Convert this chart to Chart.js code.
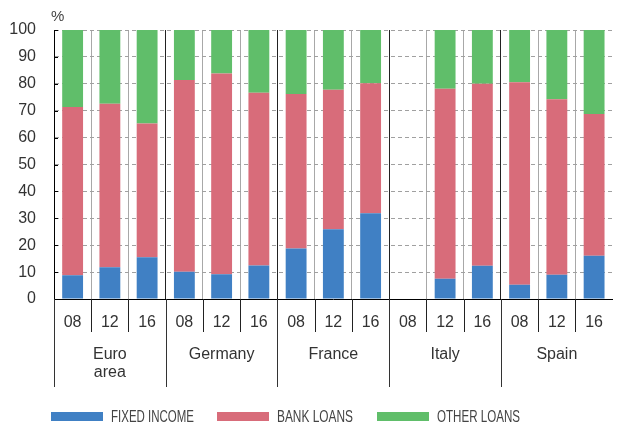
<!DOCTYPE html>
<html>
<head>
<meta charset="utf-8">
<script src="https://cdn.jsdelivr.net/npm/chart.js@4/dist/chart.umd.min.js"></script>
<style>
  html, body { margin: 0; padding: 0; background: #fff; }
  #wrap { width: 617px; height: 423px; position: relative; }
</style>
</head>
<body>
<div id="wrap"><canvas id="chart"></canvas></div>
<script>
// years shown under each bar, countries grouped by three
const categories = ['08', '12', '16', '08', '12', '16', '08', '12', '16', '08', '12', '16', '08', '12', '16'];
const groups = [['Euro', 'area'], ['Germany'], ['France'], ['Italy'], ['Spain']];
const yTicks = [0, 10, 20, 30, 40, 50, 60, 70, 80, 90, 100];

// shares in % (Italy 08 has no data)
const fixedIncome = [8.8, 11.8, 15.5, 10.1, 9.2, 12.5, 18.8, 25.9, 31.9, null, 7.5, 12.4, 5.3, 9.0, 16.1];
const bankLoans = [62.6, 60.8, 49.7, 71.3, 74.6, 64.2, 57.4, 51.9, 48.3, null, 70.7, 67.6, 75.3, 65.3, 52.7];
const otherLoans = [28.6, 27.4, 34.8, 18.6, 16.2, 23.3, 23.8, 22.2, 19.8, null, 21.8, 20.0, 19.4, 25.7, 31.2];

const FONT = '"Liberation Sans", Arial, sans-serif';

const extras = {
  id: 'extras',
  afterDraw(chart) {
    const { ctx, chartArea, scales } = chart;
    const x = scales.x;
    const y = scales.y;
    const n = categories.length;
    const catW = (x.right - x.left) / n;
    ctx.save();

    // unit label
    ctx.fillStyle = '#444';
    ctx.font = '15px ' + FONT;
    ctx.textAlign = 'left';
    ctx.textBaseline = 'middle';
    ctx.fillText('%', 51, 17);

    // small inward ticks on the y axis
    ctx.strokeStyle = '#000';
    ctx.lineWidth = 1;
    yTicks.forEach(v => {
      const py = Math.round(y.getPixelForValue(v)) + 0.5;
      ctx.beginPath();
      ctx.moveTo(chartArea.left, py);
      ctx.lineTo(chartArea.left + 4, py);
      ctx.stroke();
    });

    // separators below the axis
    for (let i = 0; i < n; i++) {
      const px = Math.round(x.left + i * catW) + 0.5;
      const isGroup = i % 3 === 0;
      ctx.strokeStyle = isGroup ? '#333' : '#222';
      ctx.beginPath();
      ctx.moveTo(px, chartArea.bottom);
      ctx.lineTo(px, chartArea.bottom + (isGroup ? 88 : 33));
      ctx.stroke();
    }

    // country names
    ctx.fillStyle = '#333';
    ctx.font = '16px ' + FONT;
    ctx.textAlign = 'center';
    groups.forEach((lines, g) => {
      const cx = x.left + (g * 3 + 1.5) * catW;
      lines.forEach((t, k) => ctx.fillText(t, cx, 355 + k * 18));
    });

    // legend, condensed text like the original
    const legendX = [51, 217, 377];
    const legendW = [83, 76, 83];
    ctx.font = '17px ' + FONT;
    ctx.textAlign = 'left';
    chart.data.datasets.forEach((ds, i) => {
      ctx.fillStyle = ds.backgroundColor;
      ctx.fillRect(legendX[i], 412, 52, 9);
      ctx.fillStyle = '#444';
      ctx.fillText(ds.label, legendX[i] + 60, 417, legendW[i]);
    });
    ctx.restore();
  }
};

new Chart(document.getElementById('chart'), {
  type: 'bar',
  data: {
    labels: categories,
    datasets: [
      { label: 'FIXED INCOME', data: fixedIncome, backgroundColor: '#4080C4' },
      { label: 'BANK LOANS', data: bankLoans, backgroundColor: '#D86C7A' },
      { label: 'OTHER LOANS', data: otherLoans, backgroundColor: '#60BE6A' }
    ]
  },
  options: {
    responsive: true,
    maintainAspectRatio: false,
    animation: false,
    devicePixelRatio: 1,
    layout: { padding: { top: 30, right: 0, left: 0, bottom: 0 } },
    datasets: { bar: { categoryPercentage: 1, barPercentage: 0.56, borderWidth: 0 } },
    plugins: { legend: { display: false }, tooltip: { enabled: false } },
    scales: {
      x: {
        stacked: true,
        afterFit: scale => { scale.height = 124; },
        grid: {
          offset: true,
          drawTicks: false,
          lineWidth: 1,
          color: c => c.index === undefined ? 'rgba(0,0,0,0)' : (c.index % 3 === 0 ? '#222' : '#a8a8a8')
        },
        border: { color: '#000', width: 1 },
        ticks: { color: '#333', padding: 14, font: { family: FONT, size: 16 } }
      },
      y: {
        stacked: true,
        min: 0,
        max: 100,
        afterFit: scale => { scale.width = 54; },
        afterBuildTicks: scale => { scale.ticks = yTicks.map(v => ({ value: v })); },
        grid: { drawTicks: false, color: '#a0a0a0', lineWidth: 1 },
        border: { color: '#000', width: 1, dash: [4, 3] },
        ticks: { color: '#333', padding: 18, font: { family: FONT, size: 16 } }
      }
    }
  },
  plugins: [extras]
});
</script>
</body>
</html>
